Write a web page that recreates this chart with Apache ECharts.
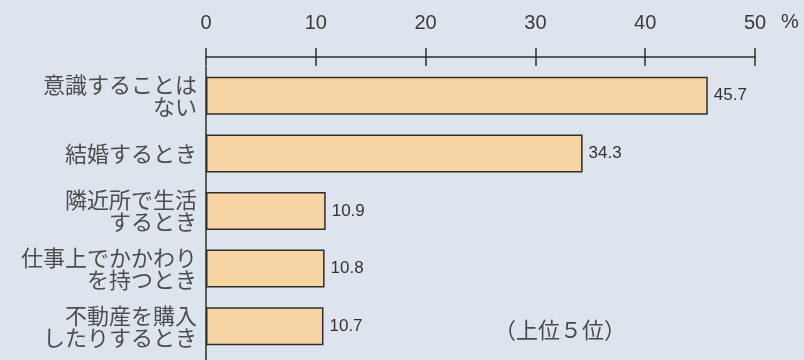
<!DOCTYPE html>
<html>
<head>
<meta charset="utf-8">
<script src="https://cdn.jsdelivr.net/npm/echarts@6/dist/echarts.min.js"></script>
<style>
  html, body { margin: 0; padding: 0; background: #dee4ee; }
  #chart { width: 804px; height: 360px; }
</style>
</head>
<body>
<div id="chart"></div>
<script>
// 意識するとき（上位5位）
const categories = [
  '意識することは\nない',
  '結婚するとき',
  '隣近所で生活\nするとき',
  '仕事上でかかわり\nを持つとき',
  '不動産を購入\nしたりするとき'
];
const values = [45.7, 34.3, 10.9, 10.8, 10.7];
const axisMin = 0;
const axisMax = 50;
const axisStep = 10;
const unitLabel = '%';
const noteText = '（上位５位）';

const chart = echarts.init(document.getElementById('chart'), null, { renderer: 'canvas' });

const lineColor = '#2e2e2e';
const numFont = '"Liberation Sans", Arial, sans-serif';
const jpFont = '"Noto Sans CJK JP", "Noto Sans", sans-serif';

const option = {
  backgroundColor: '#dee4ee',
  animation: false,
  grid: { left: 206, right: 49, top: 67, bottom: 5, containLabel: false },
  xAxis: [
    {
      type: 'value', position: 'top', offset: 10,
      min: axisMin, max: axisMax, interval: axisStep,
      axisLine: { show: true, lineStyle: { color: lineColor, width: 1.5 } },
      axisTick: { show: true, inside: false, length: 9, lineStyle: { color: lineColor, width: 1.5 } },
      axisLabel: { margin: 24, fontSize: 20, color: '#3a3a3a', fontFamily: numFont },
      splitLine: { show: false }
    },
    {
      type: 'value', position: 'top', offset: 10,
      min: axisMin, max: axisMax, interval: axisStep,
      axisLine: { show: false },
      axisTick: { show: true, inside: true, length: 9, lineStyle: { color: lineColor, width: 1.5 } },
      axisLabel: { show: false },
      splitLine: { show: false }
    }
  ],
  yAxis: {
    type: 'category', inverse: true, data: categories,
    axisLine: { show: true, lineStyle: { color: lineColor, width: 1.5 } },
    axisTick: { show: false },
    axisLabel: {
      margin: 9, fontSize: 22, lineHeight: 22, color: '#4d4d4d',
      fontFamily: jpFont, align: 'right'
    }
  },
  series: [{
    type: 'bar', xAxisIndex: 0, data: values, barWidth: 38,
    itemStyle: { color: '#f6d4a3', borderColor: lineColor, borderWidth: 1.5 },
    label: {
      show: true, position: 'right', distance: 6,
      fontSize: 17, color: '#333', fontFamily: numFont,
      formatter: p => p.value.toFixed(1)
    }
  }],
  graphic: [
    {
      type: 'text', left: 781, top: 12,
      style: { text: unitLabel, fontSize: 20, fill: '#3a3a3a', fontFamily: numFont }
    },
    {
      type: 'text', left: 494, top: 319,
      style: { text: noteText, fontSize: 22, fill: '#4a4a4a', fontFamily: jpFont }
    }
  ]
};

chart.setOption(option);

// carry the vertical axis line down to the bottom edge
const zeroX = chart.convertToPixel({ xAxisIndex: 0 }, axisMin);
const bandBottom = 360 - 5;
chart.setOption({
  graphic: [
    option.graphic[0], option.graphic[1],
    {
      type: 'line', silent: true,
      shape: { x1: zeroX, y1: bandBottom, x2: zeroX, y2: 360 },
      style: { stroke: lineColor, lineWidth: 1.5 }
    }
  ]
});
</script>
</body>
</html>
